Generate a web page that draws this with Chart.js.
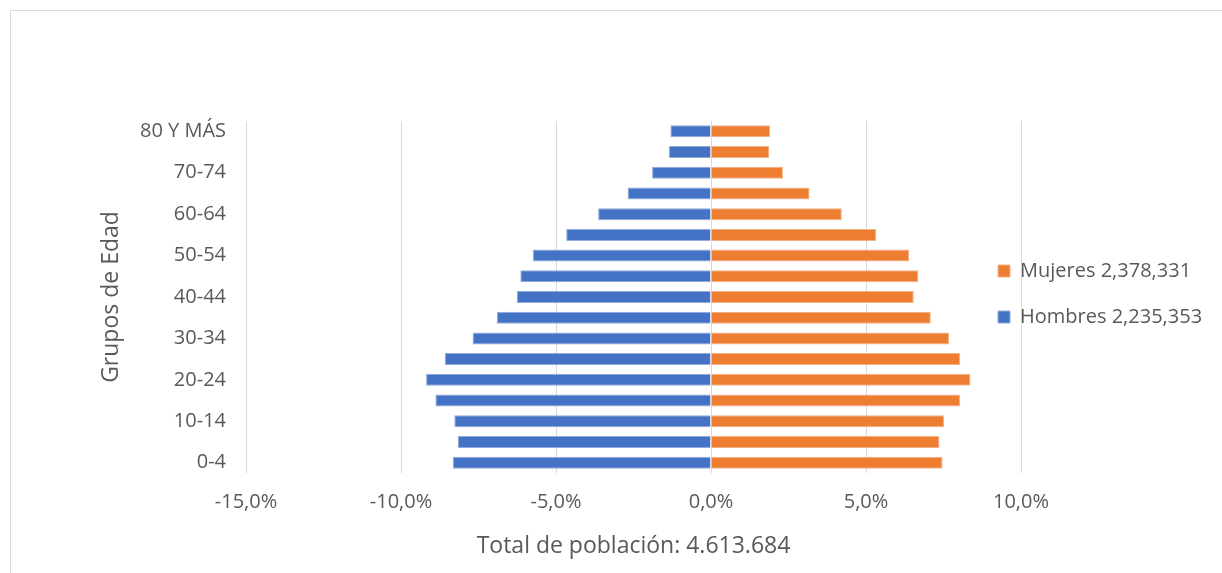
<!DOCTYPE html>
<html>
<head>
<meta charset="utf-8">
<script src="https://cdn.jsdelivr.net/npm/chart.js@4"></script>
<style>
  html, body { margin: 0; padding: 0; background: #fff; overflow: hidden; }
  #frame {
    position: absolute; left: 10px; top: 10px;
    width: 1240px; height: 600px;
    border: 1px solid #d9d9d9; background: #fff;
  }
  canvas { display: block; }
</style>
</head>
<body>
<div id="frame"><canvas id="pyramid" width="1211" height="562"></canvas></div>
<script>
// Age groups, bottom to top
const grupos = ['0-4', '5-9', '10-14', '15-19', '20-24', '25-29', '30-34', '35-39',
  '40-44', '45-49', '50-54', '55-59', '60-64', '65-69', '70-74', '75-79', '80 Y MÁS'];

// Share of each sex (%) per age group, same order as grupos
const hombres = [8.33, 8.17, 8.28, 8.89, 9.19, 8.59, 7.69, 6.91, 6.26, 6.15, 5.75, 4.67, 3.64, 2.69, 1.90, 1.36, 1.31];
const mujeres = [7.47, 7.37, 7.52, 8.04, 8.37, 8.04, 7.68, 7.09, 6.54, 6.69, 6.39, 5.33, 4.22, 3.18, 2.32, 1.88, 1.91];

const hombresLabel = 'Hombres 2,235,353';
const mujeresLabel = 'Mujeres 2,378,331';
const xTitle = 'Total de población: 4.613.684';
const yTitle = 'Grupos de Edad';

const grey = '#595959';
Chart.defaults.font.family = "'Open Sans', sans-serif";
Chart.defaults.color = grey;

// legend sits partly over the plot, like in the original
const legendPlace = {
  id: 'legendPlace',
  beforeInit(chart) {
    const fit = chart.legend.fit;
    chart.legend.fit = function () {
      fit.call(this);
      this.width = 201;
    };
  },
  afterLayout(chart) {
    const lg = chart.legend;
    lg.left -= 49;
    lg.top -= 3; lg.bottom -= 3;
  }
};

const ctx = document.getElementById('pyramid').getContext('2d');
new Chart(ctx, {
  type: 'bar',
  data: {
    labels: grupos,
    datasets: [
      {
        label: hombresLabel,
        data: hombres.map(v => -v),
        backgroundColor: '#4472c4',
        borderColor: '#8eaadb',
        borderWidth: 1,
        barPercentage: 0.58,
        categoryPercentage: 1
      },
      {
        label: mujeresLabel,
        data: mujeres,
        backgroundColor: '#ed7d31',
        borderColor: '#f4b183',
        borderWidth: 1,
        barPercentage: 0.58,
        categoryPercentage: 1
      }
    ]
  },
  options: {
    indexAxis: 'y',
    responsive: false,
    animation: false,
    layout: { padding: { top: 110, left: 70, right: 0, bottom: 10 } },
    plugins: {
      tooltip: { enabled: false },
      legend: {
        position: 'right',
        fullSize: false,
        reverse: true,
        labels: {
          boxWidth: 12,
          boxHeight: 12,
          padding: 26,
          color: grey,
          font: { size: 20 }
        }
      }
    },
    scales: {
      x: {
        stacked: true,
        min: -15,
        max: 10,
        ticks: {
          stepSize: 5,
          padding: 17,
          color: grey,
          font: { size: 20 },
          callback: v => v.toFixed(1).replace('.', ',') + '%'
        },
        grid: { color: '#d9d9d9', lineWidth: 1, drawTicks: false },
        border: { display: false },
        title: {
          display: true,
          text: xTitle,
          color: grey,
          font: { size: 23 },
          padding: { top: 18, bottom: 3 }
        },
        afterFit(scale) { scale.height = 90; }
      },
      y: {
        stacked: true,
        reverse: true,
        ticks: {
          autoSkip: false,
          padding: 20,
          color: grey,
          font: { size: 20 },
          callback: (v, i) => (i % 2 === 0 ? grupos[i] : '')
        },
        grid: { display: false, drawTicks: false },
        border: { display: false },
        title: {
          display: true,
          text: yTitle,
          color: grey,
          font: { size: 23 },
          padding: { top: 17, bottom: 0 }
        },
        afterFit(scale) { scale.width = 165; }
      }
    }
  },
  plugins: [legendPlace]
});
</script>
</body>
</html>
